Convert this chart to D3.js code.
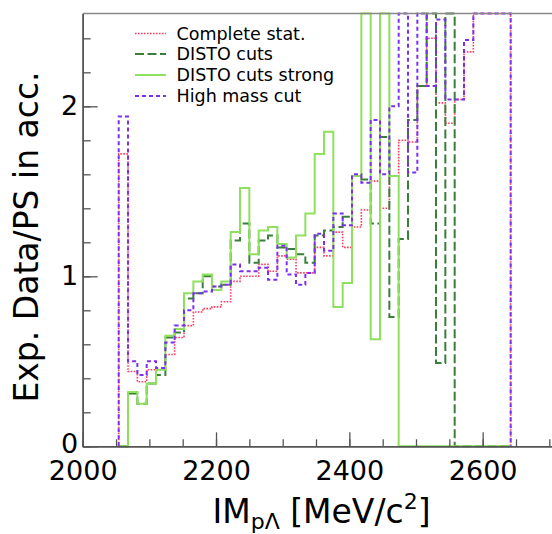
<!DOCTYPE html>
<html><head><meta charset="utf-8">
<script src="https://cdn.jsdelivr.net/npm/d3@7/dist/d3.min.js"></script>
<style>body{margin:0;background:#fff;} svg{display:block;font-family:"DejaVu Sans",sans-serif;}</style>
</head><body>
<svg id="c" width="552" height="534"></svg>
<script>
// Histogram binning (MeV/c^2)
const binStart = 2054;
const binWidth = 14;
const nBins = 42;

// Series values per bin (ratio Exp. Data / PS in acceptance); values above 2.55 are off-scale
const completeStat = [1.72,0.44,0.38,0.45,0.45,0.54,0.64,0.71,0.79,0.81,0.82,0.85,0.97,1.00,
  1.00,1.07,1.03,1.12,1.10,1.02,1.02,1.17,1.12,1.26,1.17,1.29,1.39,1.56,1.40,1.59,
  1.80,1.79,2.12,2.40,2.02,1.90,2.04,2.32,2.80,2.80,2.80,2.80];
const distoCuts = [0,0.31,0.25,0.37,0.42,0.64,0.67,0.87,0.90,1.00,0.94,0.95,1.21,1.31,
  1.08,1.21,1.24,1.17,1.16,1.13,1.08,1.24,1.27,1.29,1.35,1.59,1.57,1.31,1.82,0.76,
  1.22,1.92,2.12,2.80,0.49,2.80,0,0,0,0,0,0];
const distoCutsStrong = [0,0.32,0.25,0.37,0.45,0.65,0.69,0.90,0.97,1.01,0.92,0.97,1.26,1.52,
  1.13,1.27,1.29,1.19,1.11,1.24,1.37,1.72,1.85,0.82,0.96,1.59,2.80,0.63,2.80,1.59,
  0,0,0,0,0,0,0,0,0,0,0,0];
const highMassCut = [1.94,0.50,0.42,0.50,0.46,0.61,0.71,0.80,0.90,0.91,0.94,0.95,1.07,1.03,
  1.03,1.05,0.98,1.18,1.01,0.95,1.02,1.25,1.15,1.37,1.30,1.60,1.55,1.92,1.60,2.00,
  2.80,1.61,2.80,2.12,2.51,2.04,2.04,2.39,2.80,2.80,2.80,2.80];

const seriesNames = ["Complete stat.","DISTO cuts","DISTO cuts strong","High mass cut"];
const xMajorTicks = [2000,2200,2400,2600];
const yMajorTicks = [0,1,2];

const series = [
  {name:seriesNames[0], values:completeStat, color:"#ff3a5c", width:1.6, dash:"1.6,1.4"},
  {name:seriesNames[1], values:distoCuts, color:"#3b7d3b", width:2, dash:"9,3.5"},
  {name:seriesNames[2], values:distoCutsStrong, color:"#8fe05c", width:2, dash:null},
  {name:seriesNames[3], values:highMassCut, color:"#7a30ee", width:2, dash:"4,3"}
];

const svg = d3.select("#c");
const x = d3.scaleLinear().domain([2000, 2716]).range([82.7, 560]);
const y = d3.scaleLinear().domain([0, 2.546]).range([446.3, 13.5]).clamp(true);

const edge = i => binStart + i*binWidth;

function histPath(vals){
  let p = `M${x(edge(0))},${y(0)}`;
  vals.forEach((v,i)=>{ p += `V${y(v)}H${x(edge(i+1))}`; });
  p += `V${y(0)}`;
  return p;
}

const gData = svg.append("g");
series.forEach(s=>{
  gData.append("path").attr("d", histPath(s.values))
    .attr("fill","none").attr("stroke", s.color).attr("stroke-width", s.width)
    .attr("stroke-dasharray", s.dash);
});

// frame top line
svg.append("line").attr("x1", 82.7).attr("x2", 560).attr("y1", y(2.546)).attr("y2", y(2.546))
  .attr("stroke","#888").attr("stroke-width",1.5);

// X axis
const xMinor = d3.range(2000, 2701, 50);
const gxm = svg.append("g").attr("transform",`translate(0,${y(0)})`)
  .call(d3.axisBottom(x).tickValues(xMinor).tickSizeInner(-7).tickSizeOuter(0).tickFormat(""));
const gx = svg.append("g").attr("transform",`translate(0,${y(0)})`)
  .call(d3.axisBottom(x).tickValues(xMajorTicks).tickSizeInner(-14).tickSizeOuter(0).tickPadding(14.5).tickFormat(d3.format("d")));
[gxm,gx].forEach(g=>{ g.select(".domain").attr("stroke","#555").attr("stroke-width",1.5); g.selectAll(".tick line").attr("stroke","#555").attr("stroke-width",1.3); });
gx.selectAll(".tick text").attr("font-size",27).attr("fill","#000").attr("font-family","DejaVu Sans");

// Y axis
const yMinor = d3.range(0, 2.55, 0.2);
const gym = svg.append("g").attr("transform",`translate(${x(2000)},0)`)
  .call(d3.axisLeft(y).tickValues(yMinor).tickSizeInner(-8).tickSizeOuter(0).tickFormat(""));
const gy = svg.append("g").attr("transform",`translate(${x(2000)},0)`)
  .call(d3.axisLeft(y).tickValues(yMajorTicks).tickSizeInner(-15).tickSizeOuter(0).tickPadding(4.5).tickFormat(d3.format("d")));
[gym,gy].forEach(g=>{ g.select(".domain").attr("stroke","#555").attr("stroke-width",1.5); g.selectAll(".tick line").attr("stroke","#555").attr("stroke-width",1.3); });
gy.selectAll(".tick text").attr("font-size",27).attr("fill","#000").attr("font-family","DejaVu Sans")
  .attr("dy", d => d === 0 ? "0.22em" : "0.32em");

// Axis titles
const xt = svg.append("text").attr("x", 321.5).attr("y", 523).attr("text-anchor","middle")
  .attr("font-size",33).attr("fill","#000");
xt.append("tspan").text("IM");
xt.append("tspan").attr("font-size",22).attr("dy",6).text("pΛ");
xt.append("tspan").attr("dy",-6).text(" [MeV/c");
xt.append("tspan").attr("font-size",22).attr("dy",-14).text("2");
xt.append("tspan").attr("dy",14).text("]");

svg.append("text").attr("transform","translate(38,237) rotate(-90)").attr("text-anchor","middle")
  .attr("font-size",33).attr("fill","#000").text("Exp. Data/PS in acc.");

// Legend
const legY = [33.5, 54, 75, 96];
series.forEach((s,i)=>{
  svg.append("line").attr("x1",135).attr("x2",166).attr("y1",legY[i]).attr("y2",legY[i])
    .attr("stroke",s.color).attr("stroke-width",s.width).attr("stroke-dasharray",s.dash);
  svg.append("text").attr("x",176.5).attr("y",legY[i]).attr("dy","0.36em")
    .attr("font-size",17.5).attr("fill","#000").text(s.name);
});
</script>
</body></html>
